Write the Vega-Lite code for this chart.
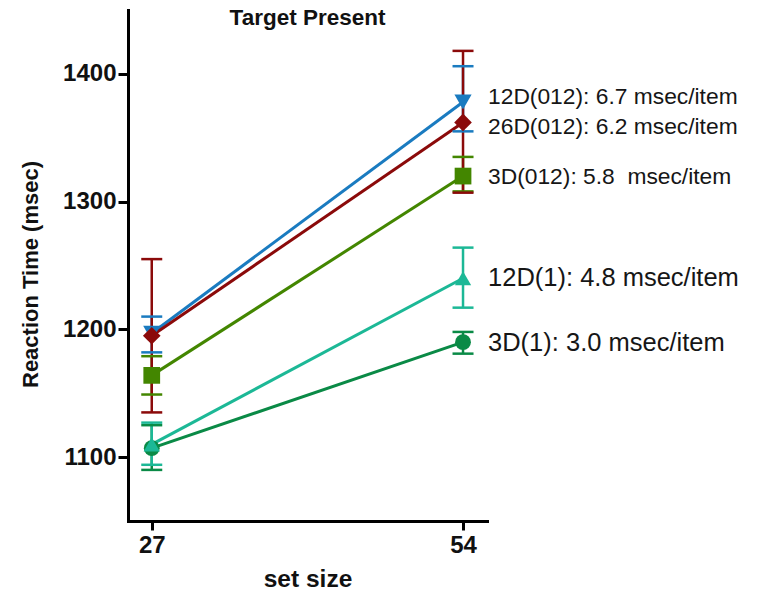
{
  "$schema": "https://vega.github.io/schema/vega-lite/v6.json",
  "autosize": {"type": "none"},
  "padding": {"left": 128, "top": 10, "right": 284, "bottom": 71},
  "width": 359,
  "height": 511,
  "background": "white",
  "config": {
    "view": {"stroke": null},
    "font": "Liberation Sans"
  },
  "title": {
    "text": "Target Present",
    "fontSize": 22.5,
    "fontWeight": "bold",
    "font": "Liberation Sans",
    "color": "#111",
    "anchor": "middle",
    "frame": "group",
    "baseline": "middle",
    "offset": -7,
    "dy": 23
  },
  "resolve": {"scale": {"size": "independent"}},
  "datasets": {
    "rt": [
      {"series": "3D(1)", "size": 27, "rt": 1107, "lo": 1090, "hi": 1125},
      {"series": "3D(1)", "size": 54, "rt": 1190, "lo": 1181, "hi": 1198},
      {"series": "12D(1)", "size": 27, "rt": 1110, "lo": 1094, "hi": 1127},
      {"series": "12D(1)", "size": 54, "rt": 1240, "lo": 1217, "hi": 1264},
      {"series": "3D(012)", "size": 27, "rt": 1164, "lo": 1149, "hi": 1179},
      {"series": "3D(012)", "size": 54, "rt": 1320, "lo": 1308, "hi": 1335},
      {"series": "12D(012)", "size": 27, "rt": 1197, "lo": 1182, "hi": 1210},
      {"series": "12D(012)", "size": 54, "rt": 1378, "lo": 1355, "hi": 1406},
      {"series": "26D(012)", "size": 27, "rt": 1195, "lo": 1135, "hi": 1255},
      {"series": "26D(012)", "size": 54, "rt": 1362, "lo": 1307, "hi": 1418}
    ],
    "labels": [
      {"series": "12D(012)", "size": 54, "ly": 1382, "label": "12D(012): 6.7 msec/item"},
      {"series": "26D(012)", "size": 54, "ly": 1358.5, "label": "26D(012): 6.2 msec/item"},
      {"series": "3D(012)", "size": 54, "ly": 1319.5, "label": "3D(012): 5.8\u00a0 msec/item"},
      {"series": "12D(1)", "size": 54, "ly": 1240, "label": "12D(1): 4.8 msec/item"},
      {"series": "3D(1)", "size": 54, "ly": 1189, "label": "3D(1): 3.0 msec/item"}
    ]
  },
  "encoding": {
    "x": {
      "field": "size",
      "type": "quantitative",
      "scale": {"domain": [24.94, 56.08], "nice": false, "zero": false},
      "axis": {
        "values": [27, 54],
        "format": "d",
        "title": "set size",
        "grid": false,
        "domainColor": "black",
        "domainWidth": 3,
        "domainCap": "square",
        "tickColor": "black",
        "tickWidth": 3,
        "tickSize": 9,
        "labelFont": "Liberation Sans",
        "labelFontSize": 24,
        "labelFontWeight": "bold",
        "labelColor": "#111",
        "labelPadding": 3,
        "labelFlush": false,
        "titleFont": "Liberation Sans",
        "titleFontSize": 24.5,
        "titleFontWeight": "bold",
        "titleColor": "#111",
        "titlePadding": 10
      }
    },
    "color": {
      "field": "series",
      "type": "nominal",
      "legend": null,
      "scale": {
        "domain": ["3D(1)", "12D(1)", "3D(012)", "12D(012)", "26D(012)"],
        "range": ["#0a8a46", "#1cb896", "#438600", "#1a7bc0", "#8b0a0a"]
      }
    }
  },
  "layer": [
    {
      "data": {"name": "rt"},
      "mark": {"type": "line", "strokeWidth": 3},
      "encoding": {
        "y": {
          "field": "rt",
          "type": "quantitative",
          "scale": {"domain": [1050, 1450], "nice": false, "zero": false},
          "axis": {
            "values": [1100, 1200, 1300, 1400],
            "format": "d",
            "title": "Reaction Time (msec)",
            "grid": false,
            "domainColor": "black",
            "domainWidth": 3,
            "domainCap": "square",
            "tickColor": "black",
            "tickWidth": 3,
            "tickSize": 10,
            "labelFont": "Liberation Sans",
            "labelFontSize": 24,
            "labelFontWeight": "bold",
            "labelColor": "#111",
            "labelPadding": 2,
            "labelFlush": false,
            "titleFont": "Liberation Sans",
            "titleFontSize": 22,
            "titleFontWeight": "bold",
            "titleColor": "#111",
            "titleAngle": -90,
            "titleAlign": "center",
            "titleBaseline": "middle",
            "titleX": -98,
            "titleY": 264
          }
        },
        "detail": {"field": "series"}
      }
    },
    {
      "data": {"name": "rt"},
      "mark": {"type": "rule", "strokeWidth": 2.5},
      "encoding": {
        "y": {"field": "lo", "type": "quantitative"},
        "y2": {"field": "hi"}
      }
    },
    {
      "data": {"name": "rt"},
      "mark": {"type": "tick", "orient": "horizontal", "size": 21, "thickness": 2.5, "opacity": 1},
      "encoding": {
        "y": {"field": "lo", "type": "quantitative"}
      }
    },
    {
      "data": {"name": "rt"},
      "mark": {"type": "tick", "orient": "horizontal", "size": 21, "thickness": 2.5, "opacity": 1},
      "encoding": {
        "y": {"field": "hi", "type": "quantitative"}
      }
    },
    {
      "data": {"name": "rt"},
      "mark": {"type": "point", "filled": true, "opacity": 1},
      "encoding": {
        "y": {"field": "rt", "type": "quantitative"},
        "shape": {
          "field": "series",
          "type": "nominal",
          "legend": null,
          "scale": {
            "domain": ["3D(1)", "12D(1)", "3D(012)", "12D(012)", "26D(012)"],
            "range": ["circle", "triangle-up", "square", "triangle-down", "diamond"]
          }
        },
        "size": {
          "field": "series",
          "type": "nominal",
          "legend": null,
          "scale": {
            "domain": ["3D(1)", "12D(1)", "3D(012)", "12D(012)", "26D(012)"],
            "range": [250, 310, 240, 310, 390]
          }
        }
      }
    },
    {
      "data": {"name": "labels"},
      "transform": [{"filter": "indexof(datum.series, '012') >= 0"}],
      "mark": {"type": "text", "align": "left", "baseline": "middle", "dx": 25, "font": "Liberation Sans", "fontSize": 22.8},
      "encoding": {
        "y": {"field": "ly", "type": "quantitative"},
        "text": {"field": "label"},
        "color": {"value": "#161616"}
      }
    },
    {
      "data": {"name": "labels"},
      "transform": [{"filter": "indexof(datum.series, '012') < 0"}],
      "mark": {"type": "text", "align": "left", "baseline": "middle", "dx": 25, "font": "Liberation Sans", "fontSize": 25.5},
      "encoding": {
        "y": {"field": "ly", "type": "quantitative"},
        "text": {"field": "label"},
        "color": {"value": "#161616"}
      }
    }
  ]
}
